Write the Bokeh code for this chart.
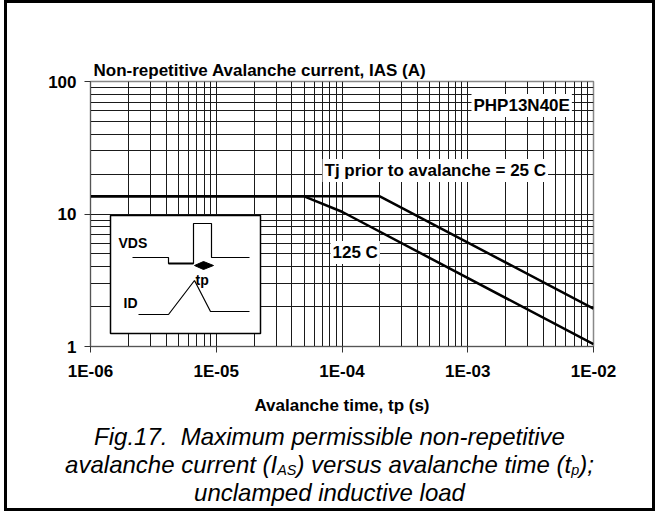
import numpy as np
from bokeh.plotting import figure
from bokeh.layouts import column
from bokeh.models import FixedTicker, CustomJSTickFormatter, Label, Range1d, Div
from bokeh.embed import file_html
from bokeh.resources import INLINE

# ---------------- data ----------------
t_25c = [1e-6, 2e-4, 1e-2]
i_25c = [13.6, 13.6, 1.93]
t_125c = [1e-6, 5e-5, 1e-4, 1e-2]
i_125c = [13.6, 13.6, 10.4, 1.04]
x_ticks = [1e-6, 1e-5, 1e-4, 1e-3, 1e-2]
x_tick_labels = ["1E-06", "1E-05", "1E-04", "1E-03", "1E-02"]
y_ticks = [1, 10, 100]
y_tick_labels = ["1", "10", "100"]
title_text = "Non-repetitive Avalanche current, IAS (A)"
x_label = "Avalanche time, tp (s)"
device = "PHP13N40E"
label_25 = "Tj prior to avalanche = 25 C"
label_125 = "125 C"
caption1 = "Fig.17.&nbsp; Maximum permissible non-repetitive"
caption2_parts = ["avalanche current (I", "AS", ") versus avalanche time (t", "p", ");"]
caption3 = "unclamped inductive load"

# ---------------- layout ----------------
W = 645
H1, H2 = 420, 85
OFFX, OFFY = 15, 11          # page offset of the canvas (margin + border)
FL, FT, FR, FB = 83, 78, 586, 343
X0, X1 = 1e-6, 1e-2
Y0, Y1 = 1, 100
FONT = "Liberation Sans"

def px2x(px):
    return 10 ** (np.log10(X0) + (px - OFFX - FL) / (FR - FL) * np.log10(X1 / X0))

def px2y(py):
    return 10 ** (np.log10(Y1) - (py - OFFY - FT) / (FB - FT) * np.log10(Y1 / Y0))

p = figure(width=W, height=H1, x_axis_type="log", y_axis_type="log",
           x_range=Range1d(X0, X1), y_range=Range1d(Y0, Y1),
           output_backend="svg", toolbar_location=None,
           min_border_left=FL, min_border_right=W - FR,
           min_border_top=FT, min_border_bottom=H1 - FB)
p.background_fill_color = "white"
p.border_fill_color = "white"
p.outline_line_color = "#888888"
p.outline_line_width = 1.5

p.title.text = title_text
p.title.text_font = FONT
p.title.text_font_size = "17px"
p.title.text_font_style = "bold"
p.title.text_color = "black"
p.title.align = "left"
p.title.offset = 3
p.title.standoff = 4

fmt_code = """
let best = 0, bd = Infinity;
for (let i = 0; i < vals.length; i++) {
  const d = Math.abs(Math.log10(tick) - Math.log10(vals[i]));
  if (d < bd) { bd = d; best = i; }
}
return labs[best];
"""
p.xaxis.ticker = FixedTicker(ticks=x_ticks, minor_ticks=[])
p.xaxis.formatter = CustomJSTickFormatter(args=dict(vals=x_ticks, labs=x_tick_labels), code=fmt_code)
p.yaxis.ticker = FixedTicker(ticks=y_ticks, minor_ticks=[])
p.yaxis.formatter = CustomJSTickFormatter(args=dict(vals=y_ticks, labs=y_tick_labels), code=fmt_code)

for ax in (p.xaxis, p.yaxis):
    ax.major_tick_out = 6
    ax.major_tick_in = 0
    ax.minor_tick_line_color = None
    ax.axis_line_color = "#555555"
    ax.major_tick_line_color = "#333333"
    ax.major_label_text_font = FONT
    ax.major_label_text_font_size = "17px"
    ax.major_label_text_font_style = "bold"
    ax.major_label_text_color = "black"
p.xaxis.major_label_standoff = 9
p.yaxis.major_label_standoff = 8
p.xaxis.axis_label = x_label
p.xaxis.axis_label_text_font = FONT
p.xaxis.axis_label_text_font_size = "17px"
p.xaxis.axis_label_text_font_style = "bold"
p.xaxis.axis_label_text_color = "black"
p.xaxis.axis_label_standoff = 12

grid_x = [k * 10.0 ** n for n in range(-6, -2) for k in range(1, 10)] + [1e-2]
grid_y = [k * 10.0 ** n for n in range(0, 2) for k in range(1, 10)] + [100]
p.xgrid.ticker = FixedTicker(ticks=grid_x)
p.ygrid.ticker = FixedTicker(ticks=grid_y)
for g in (p.xgrid, p.ygrid):
    g.grid_line_color = "#1a1a1a"
    g.grid_line_width = 1
    g.grid_line_alpha = 1.0

# ---------------- curves ----------------
p.line(t_25c, i_25c, line_color="black", line_width=2.5)
p.line(t_125c, i_125c, line_color="black", line_width=2.5)

# ---------------- inset schematic (page-pixel geometry) ----------------
p.quad(left=px2x(118), right=px2x(268), top=px2y(223), bottom=px2y(341),
       fill_color="white", line_color="black", line_width=1.5)
vds_px = [(140, 265), (176, 265), (176, 271), (201, 271), (201, 231), (219, 231), (219, 265), (257, 265)]
id_px = [(146, 322), (176, 322), (202, 288), (218, 319), (257, 319)]
dia_px = [(202, 273), (211, 269), (221, 273), (211, 277)]
p.line([px2x(a) for a, b in vds_px], [px2y(b) for a, b in vds_px], line_color="black", line_width=1.2)
p.line([px2x(a) for a, b in vds_px[2:4]], [px2y(b) for a, b in vds_px[2:4]], line_color="black", line_width=2)
p.line([px2x(a) for a, b in id_px], [px2y(b) for a, b in id_px], line_color="black", line_width=1.2)
p.patch([px2x(a) for a, b in dia_px], [px2y(b) for a, b in dia_px], fill_color="black", line_color="black")

def lab(px, py, text, size="17px", style="bold", align="left", bg=None, pad=0):
    kw = dict(x=px2x(px), y=px2y(py), text=text, text_font=FONT, text_font_size=size,
              text_font_style=style, text_align=align, text_baseline="middle", text_color="black")
    if bg:
        kw.update(background_fill_color=bg, padding=pad)
    p.add_layout(Label(**kw))

lab(126, 250, "VDS", size="14px")
lab(203, 287, "tp", size="14px")
lab(131, 310, "ID", size="14px")

lab(479, 113, device, bg="white", pad=2)
lab(330, 178, label_25, bg="white", pad=2)
lab(338, 260, label_125, bg="white", pad=2)

# ---------------- caption (HTML text with real subscripts) ----------------
SUBSTYLE = "font-size:0.6em;line-height:0;vertical-align:-0.12em"
line2 = (f"{caption2_parts[0]}<sub style='{SUBSTYLE}'>{caption2_parts[1]}</sub>"
         f"{caption2_parts[2]}<sub style='{SUBSTYLE}'>{caption2_parts[3]}</sub>{caption2_parts[4]}")
cap_html = (
    "<div style=\"font-family:'Liberation Sans',Arial,sans-serif;font-style:italic;"
    "font-size:24px;line-height:28px;text-align:center;color:black;"
    f"padding-top:0px;width:{W}px;white-space:nowrap;\">"
    f"{caption1}<br>{line2}<br>{caption3}</div>"
)
cap = Div(text=cap_html, width=W, height=H2,
          styles={"background-color": "white", "margin": "0", "padding": "0"})

layout = column(p, cap, spacing=0)
layout.styles = {"border": "3px solid black", "margin-left": "4px", "width": "fit-content",
                 "background-color": "white"}

open("out.html", "w").write(file_html(layout, INLINE))
